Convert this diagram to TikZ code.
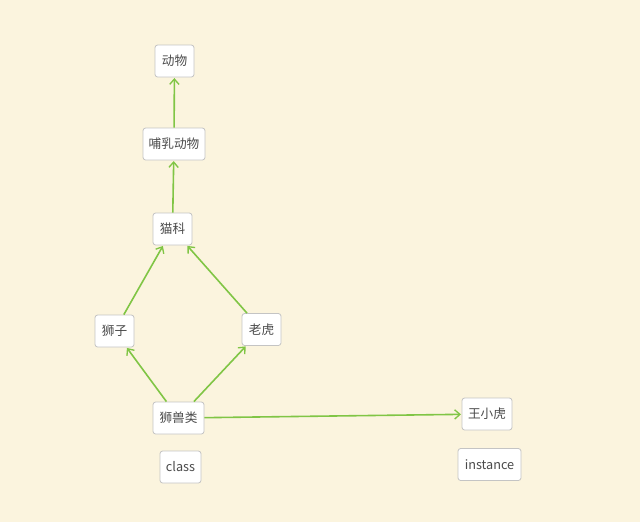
\documentclass[tikz,border=0pt]{standalone}
\usepackage{fontspec}
\setmainfont{Noto Sans CJK SC}
\usetikzlibrary{arrows.meta}
\definecolor{bg}{HTML}{FBF4DE}
\definecolor{edge}{HTML}{80C545}
\definecolor{boxline}{HTML}{C4C4C4}
\definecolor{txt}{HTML}{4A4A4A}
\tikzset{
  box/.style={draw=boxline, fill=white, rounded corners=2pt, line width=0.6pt,
    minimum height=24pt, inner sep=0pt, text=txt, font=\fontsize{9.5pt}{11pt}\selectfont},
  link/.style={draw=edge, line width=1.2pt, -{Straight Barb[length=4pt,width=7pt,line width=1pt]}, shorten >=0.5pt}
}
\begin{document}
\begin{tikzpicture}[x=0.75pt,y=-0.75pt]
\fill[bg] (0,0) rectangle (640,522);
\useasboundingbox (0,0) rectangle (640,522);
\node[box, minimum width=29.25pt] (dongwu) at (174.5,61) {动物};
\node[box, minimum width=46.5pt] (buru) at (174,144) {哺乳动物};
\node[box, minimum width=29.25pt] (maoke) at (172.5,229) {猫科};
\node[box, minimum width=29.25pt] (shizi) at (114.5,331) {狮子};
\node[box, minimum width=29.25pt] (laohu) at (261.5,329.5) {老虎};
\node[box, minimum width=38.25pt] (shoulei) at (178.5,418) {狮兽类};
\node[box, minimum width=30.75pt] (class) at (180.5,467) {class};
\node[box, minimum width=37.5pt] (wang) at (487,414) {王小虎};
\node[box, minimum width=47.25pt] (inst) at (489.5,464.5) {instance};
\draw[link] (buru) -- (dongwu);
\draw[link] (maoke) -- (buru);
\draw[link] (shizi) -- (maoke);
\draw[link] (laohu) -- (maoke);
\draw[link] (shoulei) -- (shizi);
\draw[link] (shoulei) -- (laohu);
\draw[link] (shoulei) -- (wang);
\end{tikzpicture}
\end{document}
